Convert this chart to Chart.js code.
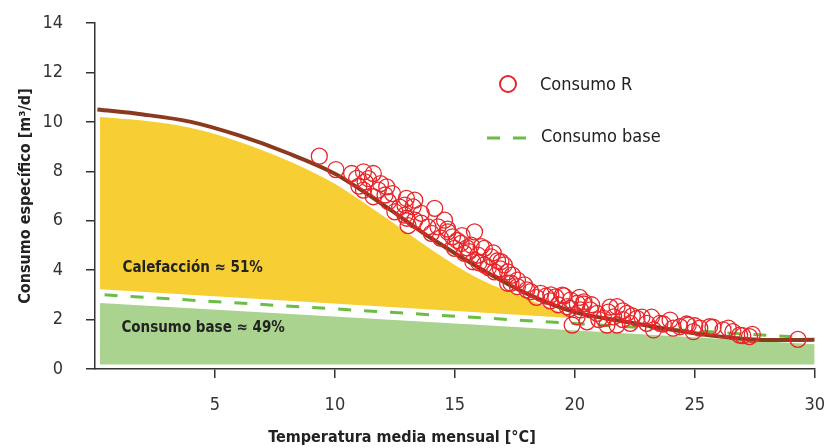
<!DOCTYPE html>
<html>
<head>
<meta charset="utf-8">
<script src="https://cdn.jsdelivr.net/npm/chart.js@4.4.0/dist/chart.umd.min.js"></script>
<style>
  html, body { margin: 0; padding: 0; background: #fff; }
</style>
</head>
<body>
<canvas id="chart" width="824" height="448"></canvas>
<script>
// Datos
const xTicks = [5, 10, 15, 20, 25, 30];
const yTicks = [0, 2, 4, 6, 8, 10, 12, 14];

// curva de ajuste (marrón)
const curvaT = [0.1, 2, 4, 6, 8, 10, 12, 14, 16, 18, 20, 22, 24, 26, 28, 30];
const curvaC = [10.5, 10.3, 10.0, 9.45, 8.75, 7.9, 6.65, 5.3, 4.1, 3.05, 2.3, 1.93, 1.6, 1.32, 1.17, 1.18];

// área de calefacción (amarillo): borde superior e inferior
const calefSupT = [0.2, 2, 4, 6, 8, 10, 12, 14, 16, 18, 20];
const calefSupC = [10.2, 10.05, 9.75, 9.2, 8.45, 7.5, 6.2, 4.85, 3.65, 2.85, 2.05];
const calefInfT = [0.2, 20];
const calefInfC = [3.23, 2.05];

// consumo base (línea discontinua) y área verde
const baseT = [0.4, 29.6];
const baseC = [3.0, 1.27];
const areaBaseT = [0.2, 30];
const areaBaseC = [2.67, 1.0];
const areaBaseFondo = 0.18;

// Consumo R (círculos)
const tempR = [9.35, 10.04, 10.7, 11.19, 11.6, 10.91, 11.26, 11.0, 11.19, 11.81, 12.16, 12.09, 11.6, 12.23, 12.98, 12.92, 13.26, 12.5, 12.92, 13.33,
  13.33, 13.6, 14.16, 14.57, 14.7, 14.71, 13.88, 14.02, 14.4, 13.05, 15.82, 15.26, 15.68, 16.23, 14.99, 15.4, 15.96, 16.51, 16.92, 15.75,
  16.23, 17.06, 17.2, 16.65, 15.1, 15.5, 16.0, 16.4, 16.78, 17.61, 17.2, 17.34, 17.61, 18.0, 18.16, 18.58, 18.8, 18.98, 19.2, 19.48,
  19.55, 19.82, 20.1, 20.38, 20.37, 19.68, 20.24, 20.65, 20.93, 20.1, 20.51, 19.89, 21.2, 21.62, 21.76, 21.47, 21.34, 21.76, 22.17, 22.0,
  22.59, 22.8, 23.0, 22.31, 23.55, 23.97, 23.28, 23.69, 24.38, 24.66, 24.73, 25.21, 25.62, 25.76, 26.18, 26.59, 24.94, 26.87, 27.0, 27.28,
  29.3, 11.4, 11.9, 12.4, 12.7, 13.0, 13.6, 14.3, 14.9, 15.3, 15.6, 16.1, 16.6, 16.9, 17.4, 17.9, 18.4, 19.0, 19.3, 19.8,
  20.2, 20.7, 21.0, 21.4, 22.0, 22.4, 23.2, 24.1, 25.0, 26.4, 27.4];
const consumoR = [8.61, 8.07, 7.91, 7.98, 7.91, 7.71, 7.57, 7.4, 7.24, 7.24, 7.37, 7.04, 6.97, 6.77, 6.9, 6.63, 6.56, 6.36, 6.23, 6.02,
  6.83, 6.3, 6.5, 6.02, 5.66, 5.55, 5.75, 5.49, 5.3, 5.8, 5.55, 5.08, 5.01, 4.88, 4.88, 4.68, 4.61, 4.54, 4.34, 4.34,
  4.21, 4.21, 3.93, 3.93, 5.2, 4.9, 4.3, 4.1, 4.38, 3.6, 3.47, 3.47, 3.33, 3.2, 3.13, 3.06, 2.95, 2.76, 2.92, 2.99,
  2.96, 2.79, 2.66, 2.72, 2.63, 2.52, 2.39, 2.39, 2.25, 2.11, 1.91, 1.78, 2.05, 2.11, 2.52, 2.5, 1.78, 1.78, 2.25, 2.35,
  2.05, 2.1, 1.85, 1.85, 1.85, 1.98, 1.58, 1.82, 1.71, 1.82, 1.78, 1.65, 1.71, 1.69, 1.58, 1.51, 1.51, 1.37, 1.35, 1.31,
  1.2, 7.7, 7.5, 7.1, 6.55, 6.1, 5.9, 5.75, 5.35, 5.4, 4.75, 4.95, 4.7, 4.05, 3.8, 3.4, 2.9, 3.0, 2.6, 2.45,
  2.9, 2.6, 2.0, 2.3, 2.0, 2.15, 2.1, 1.65, 1.75, 1.65, 1.4];

const FONT = "'Liberation Sans Narrow', 'DejaVu Sans Condensed', 'Roboto', sans-serif";
const ROJO = '#E8262A';
const VERDE_LINEA = '#6BBE45';

const pares = (xs, ys) => xs.map((x, i) => ({ x: x, y: ys[i] }));

Chart.defaults.font.family = FONT;
Chart.defaults.color = '#333';

// textos de las áreas, leyenda y título del eje x
const textos = {
  id: 'textos',
  afterDraw(chart) {
    const ctx = chart.ctx;
    const sx = chart.scales.x, sy = chart.scales.y;
    ctx.save();
    ctx.fillStyle = '#222';
    ctx.textBaseline = 'middle';
    ctx.font = "bold 15px " + FONT;
    ctx.fillText('Calefacción ≈ 51%', sx.getPixelForValue(1.15), sy.getPixelForValue(4.08));
    ctx.fillText('Consumo base ≈ 49%', sx.getPixelForValue(1.1), sy.getPixelForValue(1.66));

    // leyenda
    ctx.font = "18px " + FONT;
    ctx.strokeStyle = ROJO;
    ctx.lineWidth = 2;
    ctx.beginPath();
    ctx.arc(508, 84, 8, 0, Math.PI * 2);
    ctx.stroke();
    ctx.fillText('Consumo R', 540, 85);
    ctx.strokeStyle = VERDE_LINEA;
    ctx.lineWidth = 3;
    ctx.setLineDash([13, 13]);
    ctx.beginPath();
    ctx.moveTo(487, 138);
    ctx.lineTo(527, 138);
    ctx.stroke();
    ctx.setLineDash([]);
    ctx.fillText('Consumo base', 541, 137);

    // título eje x
    ctx.font = "bold 16px " + FONT;
    ctx.textAlign = 'center';
    ctx.fillText('Temperatura media mensual [°C]', 402, 438);
    ctx.restore();
  }
};

new Chart(document.getElementById('chart'), {
  type: 'line',
  data: {
    datasets: [
      {
        label: 'Consumo R',
        type: 'scatter',
        data: pares(tempR, consumoR),
        showLine: false,
        pointStyle: 'circle',
        pointRadius: 8,
        borderWidth: 1.3,
        borderColor: ROJO,
        backgroundColor: 'rgba(0,0,0,0)',
        order: 0
      },
      {
        label: 'Ajuste',
        data: pares(curvaT, curvaC),
        borderColor: '#8B3A1E',
        borderWidth: 4,
        pointRadius: 0,
        cubicInterpolationMode: 'monotone',
        fill: false,
        order: 1
      },
      {
        label: 'Consumo base',
        data: pares(baseT, baseC),
        borderColor: VERDE_LINEA,
        borderWidth: 3,
        borderDash: [13, 13],
        pointRadius: 0,
        fill: false,
        order: 2
      },
      {
        label: 'Calefacción',
        data: pares(calefSupT, calefSupC),
        borderColor: 'rgba(0,0,0,0)',
        borderWidth: 0,
        pointRadius: 0,
        cubicInterpolationMode: 'monotone',
        backgroundColor: '#F7CE33',
        fill: 4,
        order: 3
      },
      {
        label: 'Calefacción inferior',
        data: pares(calefInfT, calefInfC),
        borderColor: 'rgba(0,0,0,0)',
        borderWidth: 0,
        pointRadius: 0,
        fill: false,
        order: 6
      },
      {
        label: 'Área base',
        data: pares(areaBaseT, areaBaseC),
        borderColor: 'rgba(0,0,0,0)',
        borderWidth: 0,
        pointRadius: 0,
        backgroundColor: '#A9D38F',
        fill: { value: areaBaseFondo },
        order: 5
      }
    ]
  },
  options: {
    responsive: false,
    animation: false,
    layout: { padding: { top: 23, right: 5, left: 0, bottom: 0 } },
    plugins: {
      legend: { display: false },
      tooltip: { enabled: false }
    },
    scales: {
      x: {
        type: 'linear',
        min: 0,
        max: 30,
        afterBuildTicks: s => { s.ticks = xTicks.map(v => ({ value: v })); },
        afterFit: s => { s.height = 79; s.paddingLeft = 0; s.paddingRight = 0; },
        grid: { drawOnChartArea: false, drawTicks: true, tickLength: 9, color: '#333', lineWidth: 1.5 },
        border: { display: true, color: '#333', width: 1.5 },
        ticks: { padding: 17, color: '#333', font: { size: 18 }, maxRotation: 0 }
      },
      y: {
        type: 'linear',
        min: 0,
        max: 14,
        afterBuildTicks: s => { s.ticks = yTicks.map(v => ({ value: v })); },
        afterFit: s => { s.width = 95; s.paddingTop = 0; s.paddingBottom = 0; },
        grid: { drawOnChartArea: false, drawTicks: true, tickLength: 9, color: '#333', lineWidth: 1.5 },
        border: { display: true, color: '#333', width: 1.5 },
        ticks: { padding: 23, color: '#333', font: { size: 18 } },
        title: {
          display: true,
          text: 'Consumo específico [m³/d]',
          color: '#222',
          font: { size: 16, weight: 'bold' },
          padding: { top: 16, bottom: 0 }
        }
      }
    }
  },
  plugins: [textos]
});
</script>
</body>
</html>
